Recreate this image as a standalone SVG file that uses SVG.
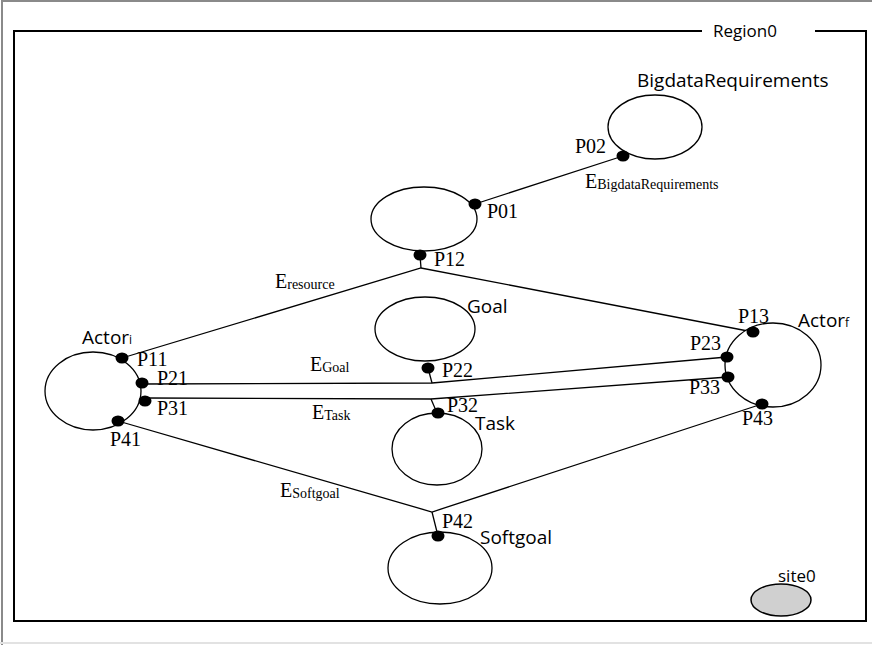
<svg xmlns="http://www.w3.org/2000/svg" width="872" height="645" viewBox="0 0 872 645">
<style>
.frame{fill:none;stroke:#8a8a8a;stroke-width:2}
.region{fill:none;stroke:#000;stroke-width:2}
.node{fill:#fff;stroke:#000;stroke-width:1.3}
.site{fill:#d0d0d0;stroke:#000;stroke-width:1.5}
.port{fill:#000}
.edge{fill:none;stroke:#000;stroke-width:1.3}
.lbl{font-family:"Open Sans","Liberation Sans",sans-serif;font-size:19px;fill:#000}
.p{font-family:"Liberation Serif","Times New Roman",serif;font-size:20px;fill:#000}
.sub{font-size:14px}
.si{font-size:12px}
</style>
<rect width="872" height="645" fill="#fff"/>
<g id="frame">
<line class="frame" x1="2" y1="0" x2="2" y2="645"/>
<line class="frame" x1="2" y1="1" x2="872" y2="1"/>
<line x1="0" y1="643" x2="872" y2="643" stroke="#e2e2e2" stroke-width="2"/>
</g>
<g id="region0">
<path class="region" d="M702,31 H14 V621 H866 V31 H815"/>
<text class="lbl" x="713" y="37" style="font-size:17px">Region0</text>
</g>
<g id="connectors">
<path class="edge" d="M475,204 L623,156"/>
<path class="edge" d="M122,358 L421,268 L753,332"/>
<path class="edge" d="M420,255 L421,268"/>
<path class="edge" d="M142,384 L432,383 L727,357"/>
<path class="edge" d="M428,368 L432,383"/>
<path class="edge" d="M145,398 L431,399 L728,377"/>
<path class="edge" d="M431,399 L437,413"/>
<path class="edge" d="M118,421 L432,512 L762,404"/>
<path class="edge" d="M432,512 L438,536"/>
<text class="p" x="585" y="188">E<tspan class="sub" dy="1">BigdataRequirements</tspan></text>
<text class="p" x="275" y="288">E<tspan class="sub" dy="1">resource</tspan></text>
<text class="p" x="310" y="371">E<tspan class="sub" dy="1">Goal</tspan></text>
<text class="p" x="312" y="419">E<tspan class="sub" dy="1">Task</tspan></text>
<text class="p" x="280" y="497">E<tspan class="sub" dy="1">Softgoal</tspan></text>
</g>
<g id="BigdataRequirements">
<ellipse class="node" cx="655" cy="127" rx="47" ry="32"/>
<text class="lbl" x="637" y="87">BigdataRequirements</text>
<ellipse class="port" cx="623" cy="156" rx="6.5" ry="5.5"/>
<text class="p" x="575" y="153">P02</text>
</g>
<g id="node0">
<ellipse class="node" cx="424" cy="219" rx="53" ry="32"/>
<ellipse class="port" cx="475" cy="204" rx="6.5" ry="5.5"/>
<text class="p" x="487" y="218">P01</text>
<ellipse class="port" cx="420" cy="255" rx="6.5" ry="5.5"/>
<text class="p" x="434" y="266">P12</text>
</g>
<g id="Goal">
<ellipse class="node" cx="425" cy="329" rx="50" ry="32"/>
<text class="lbl" x="467" y="313">Goal</text>
<ellipse class="port" cx="428" cy="368" rx="6.5" ry="5.5"/>
<text class="p" x="442" y="377">P22</text>
</g>
<g id="Task">
<ellipse class="node" cx="437" cy="449" rx="45" ry="36"/>
<text class="lbl" x="475" y="430">Task</text>
<ellipse class="port" cx="438" cy="413" rx="6.5" ry="5.5"/>
<text class="p" x="447" y="412">P32</text>
</g>
<g id="Softgoal">
<ellipse class="node" cx="440" cy="568" rx="52" ry="36"/>
<text class="lbl" x="480" y="544">Softgoal</text>
<ellipse class="port" cx="438" cy="536" rx="6.5" ry="5.5"/>
<text class="p" x="442" y="528">P42</text>
</g>
<g id="Actor_i">
<ellipse class="node" cx="93" cy="391" rx="48" ry="39"/>
<text class="lbl" x="82" y="344">Actor<tspan class="si">i</tspan></text>
<ellipse class="port" cx="122" cy="358" rx="6.5" ry="5.5"/>
<text class="p" x="137" y="366">P11</text>
<ellipse class="port" cx="142" cy="383" rx="6.5" ry="5.5"/>
<text class="p" x="157" y="385">P21</text>
<ellipse class="port" cx="145" cy="401" rx="6.5" ry="5.5"/>
<text class="p" x="157" y="415">P31</text>
<ellipse class="port" cx="118" cy="421" rx="6.5" ry="5.5"/>
<text class="p" x="110" y="446">P41</text>
</g>
<g id="Actor_f">
<ellipse class="node" cx="773" cy="365" rx="48" ry="42"/>
<text class="lbl" x="798" y="327">Actor<tspan class="si">f</tspan></text>
<ellipse class="port" cx="753" cy="332" rx="6.5" ry="5.5"/>
<text class="p" x="738" y="323">P13</text>
<ellipse class="port" cx="727" cy="357" rx="6.5" ry="5.5"/>
<text class="p" x="690" y="350">P23</text>
<ellipse class="port" cx="728" cy="377" rx="6.5" ry="5.5"/>
<text class="p" x="689" y="394">P33</text>
<ellipse class="port" cx="762" cy="404" rx="6.5" ry="5.5"/>
<text class="p" x="742" y="425">P43</text>
</g>
<g id="site0">
<ellipse class="site" cx="781" cy="600" rx="30" ry="16"/>
<text class="lbl" x="778" y="582" style="font-size:17px">site0</text>
</g>
</svg>
